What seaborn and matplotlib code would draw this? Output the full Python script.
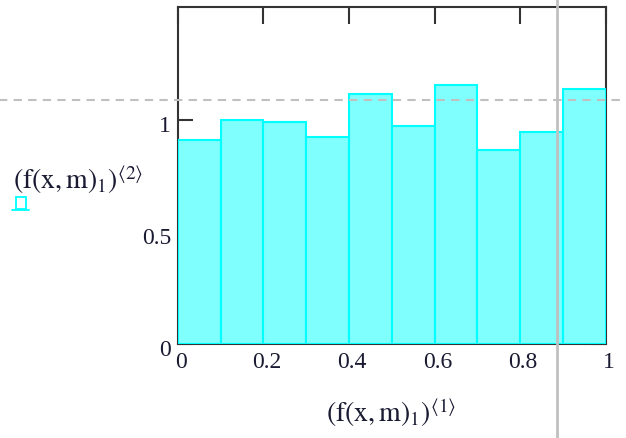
import matplotlib
matplotlib.use("Agg")
import matplotlib.pyplot as plt
import matplotlib.transforms as mtransforms
from matplotlib.lines import Line2D
from matplotlib.patches import Rectangle
import numpy as np
import seaborn as sns

# histogram values (10 bins over 0..1, density)
bin_centers = [0.05, 0.15, 0.25, 0.35, 0.45, 0.55, 0.65, 0.75, 0.85, 0.95]
density = [0.911, 1.0, 0.991, 0.921, 1.115, 0.973, 1.152, 0.866, 0.946, 1.134]
x_ticks = [0, 0.2, 0.4, 0.6, 0.8, 1]
x_ticklabels = ["0", "0.2", "0.4", "0.6", "0.8", "1"]
y_ticks = [0, 0.5, 1]
y_ticklabels = ["0", "0.5", "1"]
marker_y = 1.089   # dashed horizontal cursor
marker_x = 0.886   # vertical cursor

sns.set_style("white")
plt.rcParams["font.family"] = ["Liberation Serif", "DejaVu Serif"]
plt.rcParams["mathtext.fontset"] = "stix"

fig = plt.figure(figsize=(6.26, 4.38), dpi=100)
ax = fig.add_axes([0.2843, 0.2146, 0.6830, 0.7687])

sns.histplot(x=bin_centers, weights=density, bins=10, binrange=(0, 1),
             stat="count", color="#80ffff", edgecolor="#00ffff",
             linewidth=1.5, alpha=1, ax=ax, zorder=3)

ax.set_xlim(0, 1)
ax.set_ylim(0, 1.5)

for s in ax.spines.values():
    s.set_color("#333333")
    s.set_linewidth(1.5)
    s.set_zorder(2)

ax.set_xticks(x_ticks)
ax.set_xticklabels(x_ticklabels, fontsize=17, color="#1a1a33")
ax.set_yticks(y_ticks)
ax.set_yticklabels(y_ticklabels, fontsize=17, color="#1a1a33")
ax.tick_params(axis="x", direction="in", length=12, width=1.5, color="#333333",
               top=True, bottom=False, pad=6)
ax.tick_params(axis="y", direction="in", length=11, width=1.5, color="#333333",
               left=True, right=True, pad=5)

off_x = mtransforms.ScaledTranslation(3 / 100, 0, fig.dpi_scale_trans)
for lab in ax.get_xticklabels():
    lab.set_transform(lab.get_transform() + off_x)
off_y = mtransforms.ScaledTranslation(0, -4 / 100, fig.dpi_scale_trans)
for lab in ax.get_yticklabels():
    lab.set_transform(lab.get_transform() + off_y)

ax.set_xlabel("")
ax.set_ylabel("")

# cursor lines
ax.axhline(marker_y, xmin=-0.42, xmax=1.05, color="#c0c0c0", lw=1.5,
           ls=(0, (4, 3)), clip_on=False, zorder=5)
ax.axvline(marker_x, ymin=-0.28, ymax=1.03, color="#c0c0c0", lw=2,
           clip_on=False, zorder=5)

# axis labels
fig.text(391 / 626, 1 - 413 / 438,
         r"$\left(\mathrm{f(x,m)}_{1}\right)^{\langle 1\rangle}$",
         fontsize=20, ha="center", va="center", color="#1a1a33")
fig.text(13 / 626, 1 - 180 / 438,
         r"$\left(\mathrm{f(x,m)}_{1}\right)^{\langle 2\rangle}$",
         fontsize=20, ha="left", va="center", color="#1a1a33")

# trace style icon below y label
fig.add_artist(Rectangle((16 / 626, 1 - 209 / 438), 10 / 626, 12 / 438,
                         transform=fig.transFigure, fill=False,
                         edgecolor="#00ffff", lw=1.3))
fig.add_artist(Line2D([12 / 626, 29 / 626], [1 - 210 / 438, 1 - 210 / 438],
                      transform=fig.transFigure, color="#00ffff", lw=1.3))

fig.savefig("out.png", dpi=100)
